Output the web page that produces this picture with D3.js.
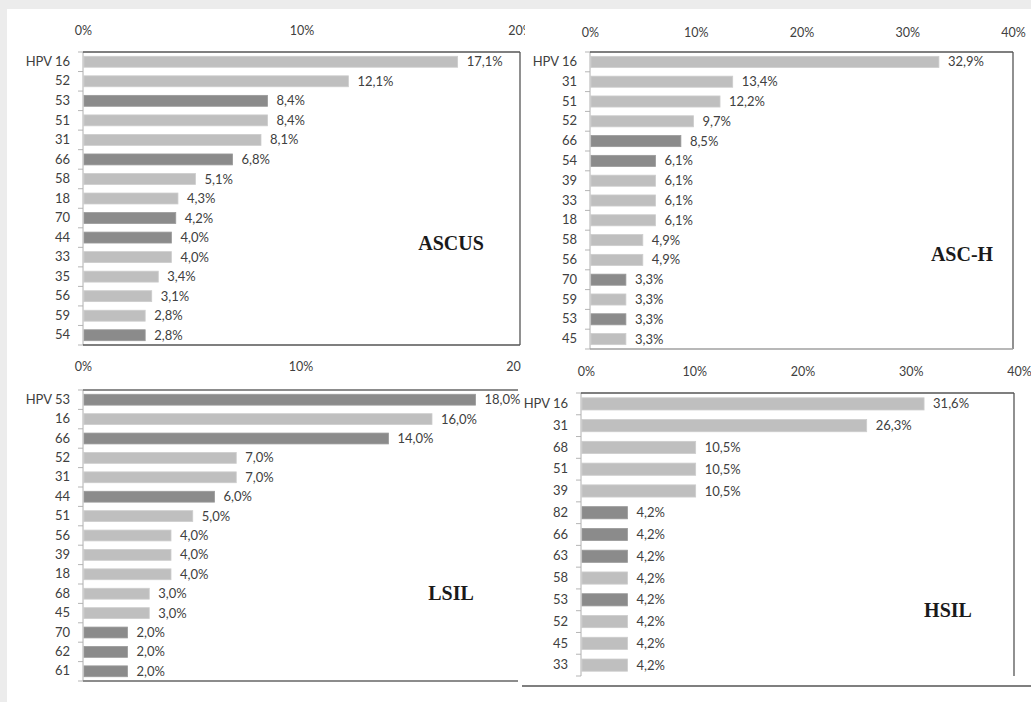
<!DOCTYPE html>
<html>
<head>
<meta charset="utf-8">
<script src="https://cdn.jsdelivr.net/npm/d3@7"></script>
<style>
  html, body { margin: 0; padding: 0; background: #ececec; }
  svg { display: block; }
</style>
</head>
<body>
<div id="chart"></div>
<script>
const WIDTH = 1031;
const HEIGHT = 702;

// ASCUS
const ascusTypes = ['HPV 16', '52', '53', '51', '31', '66', '58', '18', '70', '44', '33', '35', '56', '59', '54'];
const ascusValues = [17.1, 12.1, 8.4, 8.4, 8.1, 6.8, 5.1, 4.3, 4.2, 4.0, 4.0, 3.4, 3.1, 2.8, 2.8];
const ascusDark = ['53', '66', '70', '44', '54'];

// ASC-H
const aschTypes = ['HPV 16', '31', '51', '52', '66', '54', '39', '33', '18', '58', '56', '70', '59', '53', '45'];
const aschValues = [32.9, 13.4, 12.2, 9.7, 8.5, 6.1, 6.1, 6.1, 6.1, 4.9, 4.9, 3.3, 3.3, 3.3, 3.3];
const aschDark = ['66', '54', '70', '53'];

// LSIL
const lsilTypes = ['HPV 53', '16', '66', '52', '31', '44', '51', '56', '39', '18', '68', '45', '70', '62', '61'];
const lsilValues = [18.0, 16.0, 14.0, 7.0, 7.0, 6.0, 5.0, 4.0, 4.0, 4.0, 3.0, 3.0, 2.0, 2.0, 2.0];
const lsilDark = ['HPV 53', '66', '44', '70', '62', '61'];

// HSIL
const hsilTypes = ['HPV 16', '31', '68', '51', '39', '82', '66', '63', '58', '53', '52', '45', '33'];
const hsilValues = [31.6, 26.3, 10.5, 10.5, 10.5, 4.2, 4.2, 4.2, 4.2, 4.2, 4.2, 4.2, 4.2];
const hsilDark = ['82', '66', '63', '53'];

const ticks20 = [0, 10, 20];
const ticks40 = [0, 10, 20, 30, 40];

const LIGHT = '#bfbfbf';
const DARK = '#8b8b8b';
const TEXT = '#404040';
const FONT = 'Lato, "Open Sans", sans-serif';

const locale = d3.formatLocale({ decimal: ',', thousands: '.', grouping: [3], currency: ['', '€'] });
const fmt = locale.format('.1f');

const svg = d3.select('#chart')
    .append('svg')
    .attr('width', WIDTH)
    .attr('height', HEIGHT);

// white sheet with grey margin top and left
svg.append('rect')
    .attr('x', 7).attr('y', 9)
    .attr('width', WIDTH - 7).attr('height', HEIGHT - 9)
    .attr('fill', '#fff');

function drawPanel(p) {
    const g = svg.append('g');

    if (p.bg) {
        g.append('rect')
            .attr('x', p.bg[0]).attr('y', p.bg[1])
            .attr('width', p.bg[2]).attr('height', p.bg[3])
            .attr('fill', '#fff');
    }

    const data = p.types.map((t, i) => ({ type: t, value: p.values[i], dark: p.dark.includes(t) }));

    const x = d3.scaleLinear()
        .domain([0, p.max])
        .range([p.left, p.right]);

    const y = d3.scaleBand()
        .domain(p.types)
        .range([p.top, p.bottom]);

    // top percentage axis
    g.append('g')
        .attr('transform', `translate(${p.tickDx || 0},${p.tickY})`)
        .call(d3.axisTop(x).tickValues(p.ticks).tickFormat(d => d + '%').tickSize(0))
        .call(a => a.select('.domain').remove())
        .call(a => a.selectAll('text')
            .attr('fill', TEXT)
            .style('font-family', FONT)
            .style('font-size', '12.5px'));

    // category axis
    g.append('g')
        .attr('transform', `translate(${p.left},0)`)
        .call(d3.axisLeft(y).tickSize(0).tickPadding(13))
        .call(a => a.select('.domain').remove())
        .call(a => a.selectAll('text')
            .attr('fill', TEXT)
            .style('font-family', FONT)
            .style('font-size', '13px'));

    // small ticks between categories
    const bounds = p.types.map(t => y(t)).concat([p.bottom]);
    g.selectAll('.btick')
        .data(bounds)
        .enter()
        .append('line')
        .attr('x1', p.left - 5).attr('x2', p.left)
        .attr('y1', d => d).attr('y2', d => d)
        .attr('stroke', '#b5b5b5');

    // bars
    g.selectAll('.bar')
        .data(data)
        .enter()
        .append('rect')
        .attr('x', x(0) + 1)
        .attr('y', d => y(d.type) + y.bandwidth() * 0.22)
        .attr('width', d => x(d.value) - x(0))
        .attr('height', y.bandwidth() * 0.56)
        .attr('fill', d => d.dark ? DARK : LIGHT)
        .attr('stroke', d => d.dark ? '#9a9a9a' : '#cdcdcd')
        .attr('stroke-width', 0.8);

    // value labels
    g.selectAll('.val')
        .data(data)
        .enter()
        .append('text')
        .text(d => fmt(d.value) + '%')
        .attr('x', d => x(d.value) + 10)
        .attr('y', d => y(d.type) + y.bandwidth() / 2)
        .attr('dy', '0.35em')
        .attr('fill', TEXT)
        .style('font-family', FONT)
        .style('font-size', '13px');

    // left axis line
    g.append('line')
        .attr('x1', p.left).attr('x2', p.left)
        .attr('y1', p.top).attr('y2', p.bottom)
        .attr('stroke', '#b0b0b0');

    // box sides
    p.sides.forEach(s => {
        const ln = g.append('line')
            .attr('stroke', s.color)
            .attr('stroke-width', s.w);
        if (s.side === 'top') ln.attr('x1', p.left).attr('x2', p.right).attr('y1', p.top).attr('y2', p.top);
        if (s.side === 'bottom') ln.attr('x1', p.left).attr('x2', p.right).attr('y1', p.bottom).attr('y2', p.bottom);
        if (s.side === 'right') ln.attr('x1', p.right).attr('x2', p.right).attr('y1', p.top).attr('y2', p.bottom);
    });

    // panel title
    g.append('text')
        .text(p.title)
        .attr('x', p.titleX)
        .attr('y', p.titleY)
        .attr('text-anchor', 'middle')
        .attr('fill', '#1a1a1a')
        .style('font-family', '"Liberation Serif", "Times New Roman", serif')
        .style('font-weight', 'bold')
        .style('font-size', '20px');

    return g;
}

drawPanel({
    types: ascusTypes, values: ascusValues, dark: ascusDark, max: 20, ticks: ticks20,
    left: 83, right: 520, top: 52, bottom: 345, tickY: 38,
    title: 'ASCUS', titleX: 451, titleY: 250,
    sides: [
        { side: 'top', color: '#555', w: 1.3 },
        { side: 'right', color: '#555', w: 1.3 },
        { side: 'bottom', color: '#555', w: 1.3 }
    ]
});

drawPanel({
    types: lsilTypes, values: lsilValues, dark: lsilDark, max: 20, ticks: ticks20,
    left: 83, right: 518, top: 390, bottom: 681, tickY: 374,
    title: 'LSIL', titleX: 451, titleY: 600,
    sides: [
        { side: 'top', color: '#8c8c8c', w: 2 },
        { side: 'bottom', color: '#8c8c8c', w: 2 }
    ]
});

drawPanel({
    bg: [525, 9, WIDTH - 525, 347],
    types: aschTypes, values: aschValues, dark: aschDark, max: 40, ticks: ticks40,
    left: 590, right: 1013, top: 52, bottom: 349, tickY: 40,
    title: 'ASC-H', titleX: 962, titleY: 261,
    sides: [
        { side: 'top', color: '#555', w: 1.3 },
        { side: 'right', color: '#555', w: 1.3 },
        { side: 'bottom', color: '#a0a0a0', w: 1.3 }
    ]
});

const hsil = drawPanel({
    bg: [521, 356, WIDTH - 521, HEIGHT - 356],
    types: hsilTypes, values: hsilValues, dark: hsilDark, max: 40, ticks: ticks40,
    left: 581, right: 1014, top: 393, bottom: 676, tickY: 379, tickDx: 5,
    title: 'HSIL', titleX: 948, titleY: 617,
    sides: [
        { side: 'top', color: '#555', w: 1.3 },
        { side: 'right', color: '#555', w: 1.3 }
    ]
});

// frame line under the HSIL picture
hsil.append('line')
    .attr('x1', 522).attr('x2', WIDTH)
    .attr('y1', 686).attr('y2', 686)
    .attr('stroke', '#555')
    .attr('stroke-width', 1.3);
</script>
</body>
</html>
